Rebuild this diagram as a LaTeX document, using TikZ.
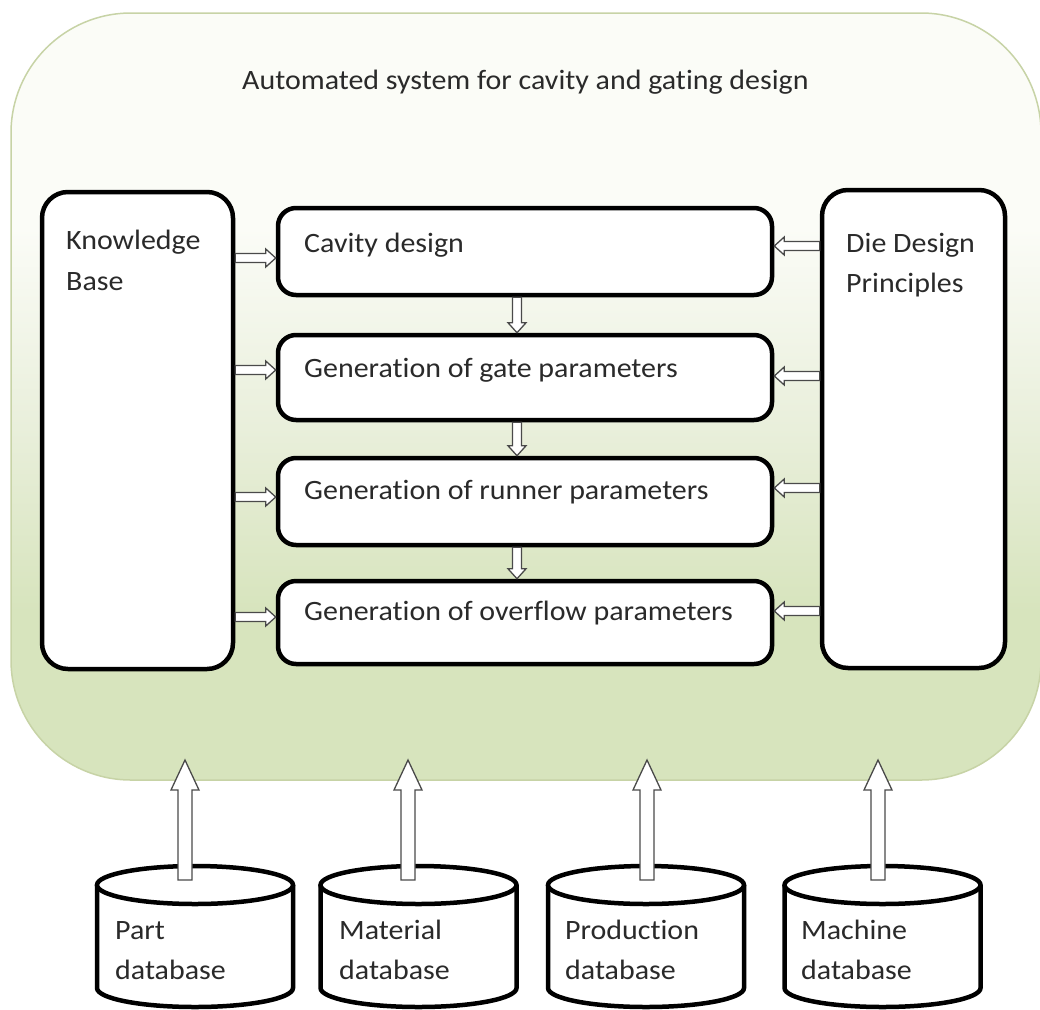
\documentclass[tikz,border=0pt]{standalone}
\usepackage{fontspec}
\setmainfont{Carlito}[Ligatures=NoCommon, FakeStretch=1.07]
\usetikzlibrary{calc}
\definecolor{gtop}{HTML}{FBFCF7}
\definecolor{gmid}{HTML}{E9EFDB}
\definecolor{gbot}{HTML}{D7E4BD}
\definecolor{gborder}{HTML}{C7D3A6}
\definecolor{txt}{HTML}{2A2A2A}
\definecolor{arr}{HTML}{4A4A4A}
\pgfdeclareverticalshading{outerfill}{100bp}{color(0bp)=(gbot); color(36bp)=(gbot); color(48bp)=(gmid); color(61bp)=(gtop); color(100bp)=(gtop)}
\newcommand{\hollowarrow}[5]{%
  \path (#2) coordinate (hB) ($(#2)!#5!(#1)$) coordinate (hM);
  \draw[arrline] ($(#1)!#3!90:(hM)$) -- ($(hM)!#3!-90:(#1)$) -- ($(hM)!#4!-90:(#1)$) -- (hB)
    -- ($(hM)!#4!90:(#1)$) -- ($(hM)!#3!90:(#1)$) -- ($(#1)!#3!-90:(hM)$) -- cycle;}
\tikzset{
  box/.style={draw=black, line width=4.5pt, fill=white, rounded corners=18pt, inner sep=0pt},
  sidebox/.style={box, rounded corners=26pt},
  lbl/.style={text=txt, font=\fontsize{28}{41}\selectfont, inner sep=0pt, anchor=base west},
  arrline/.style={draw=arr, line width=1.3pt, fill=white, line join=miter},
  dbline/.style={draw=black, line width=4.5pt, fill=white},
}
\begin{document}
\begin{tikzpicture}[x=1pt, y=-1pt]
\useasboundingbox (0,0) rectangle (1040,1009);
% outer container
\node[draw=gborder, line width=1.5pt, rounded corners=120pt, shading=outerfill,
      minimum width=1030pt, minimum height=767pt, inner sep=0pt] (outer) at (526,396.5) {};
\node[lbl] (title) at (242,89) {Automated system for cavity and gating design};
% side boxes
\node[sidebox, minimum width=191pt, minimum height=477pt] (kb) at (137.5,430.5) {};
\node[lbl] (kbt) at (66,249) {Knowledge};
\node[lbl] (kbt2) at (66,290) {Base};
\node[sidebox, minimum width=183pt, minimum height=478pt] (ddp) at (913.5,429) {};
\node[lbl] (ddpt) at (846,252) {Die Design};
\node[lbl] (ddpt2) at (846,292) {Principles};
% middle boxes
\node[box, minimum width=494pt, minimum height=87pt] (cav) at (525,251.5) {};
\node[lbl] (cavt) at (304,252) {Cavity design};
\node[box, minimum width=494pt, minimum height=85pt] (gate) at (525,377.5) {};
\node[lbl] (gatet) at (304,377) {Generation of gate parameters};
\node[box, minimum width=494pt, minimum height=87pt] (run) at (525,501.5) {};
\node[lbl] (runt) at (304,499) {Generation of runner parameters};
\node[box, minimum width=494pt, minimum height=83pt] (ovf) at (525,622.5) {};
\node[lbl] (ovft) at (304,620) {Generation of overflow parameters};
% knowledge base arrows
\foreach \tgt/\yy [count=\i] in {cav/258, gate/370, run/497, ovf/617}{
  \coordinate (ka\i) at (kb.east |- 0,\yy);
  \coordinate (kt\i) at (\tgt.west |- 0,\yy);
  \hollowarrow{ka\i}{kt\i}{4.5pt}{9pt}{10pt}
}
% die design principle arrows
\foreach \tgt/\yy [count=\i] in {cav/246, gate/376, run/488, ovf/611}{
  \coordinate (da\i) at (ddp.west |- 0,\yy);
  \coordinate (dt\i) at (\tgt.east |- 0,\yy);
  \hollowarrow{da\i}{dt\i}{4.5pt}{9pt}{10pt}
}
% vertical flow arrows
\foreach \a/\b [count=\i] in {cav/gate, gate/run, run/ovf}{
  \coordinate (va\i) at (\a.south -| 517,0);
  \coordinate (vb\i) at (\b.north -| 517,0);
  \hollowarrow{va\i}{vb\i}{4.5pt}{9pt}{10pt}
}
% databases
\foreach \nm/\cx/\tx/\ta/\tb in {part/195/115/Part/database, mat/418.5/339/Material/database, prod/646/565/Production/database, mach/882.5/801/Machine/database}{
  \draw[dbline] (\cx-98,885) -- (\cx-98,988) arc[start angle=180, end angle=360, x radius=98pt, y radius=19pt] -- (\cx+98,885);
  \draw[dbline] (\cx,885) ellipse[x radius=98pt, y radius=19pt];
  \node[lbl] (\nm) at (\tx,939) {\ta};
  \node[lbl] (\nm b) at (\tx,979) {\tb};
}
% big upward arrows into the system
\foreach \src/\xx [count=\i] in {part/185, mat/408, prod/647, mach/878}{
  \coordinate (ba\i) at (\xx,880);
  \coordinate (bt\i) at (\xx,760);
  \hollowarrow{ba\i}{bt\i}{7pt}{14pt}{30pt}
}
\end{tikzpicture}
\end{document}
